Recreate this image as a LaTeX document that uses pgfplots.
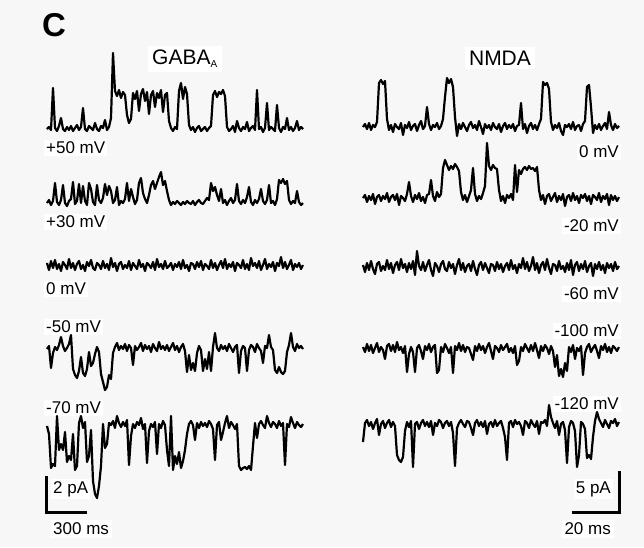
\documentclass[border=0pt]{standalone}
\usepackage{fontspec}
\setmainfont{Liberation Sans}
\usepackage{pgfplots}
\pgfplotsset{compat=1.18}
\definecolor{bg}{RGB}{247,247,247}
\pgfplotsset{trace/.style={black, line width=2.2pt, mark=none, line join=round}}
\newcommand{\lbl}{\fontsize{17}{20}\selectfont}
\newcommand{\ttl}{\fontsize{21}{24}\selectfont}

\begin{document}
\begin{tikzpicture}
\begin{axis}[x=1pt, y=1pt, y dir=reverse,
  xmin=0, xmax=644, ymin=0, ymax=547,
  hide axis, clip=false, scale only axis]

\fill[bg] (axis cs:0,0) rectangle (axis cs:644,547);

% panel letter and titles
\node[anchor=west, font=\fontsize{33}{36}\selectfont\bfseries, inner sep=0pt] at (axis cs:42,25) {C};
\node[anchor=west, font=\ttl, fill=white, inner sep=4pt] at (axis cs:148,59) {GABA\textsubscript{\fontsize{10}{10}\selectfont A}};
\node[anchor=center, font=\ttl, fill=white, inner sep=4pt] at (axis cs:500,58) {NMDA};

% voltage labels
\node[anchor=west, font=\lbl, fill=white, inner sep=2pt] at (axis cs:44,148) {+50 mV};
\node[anchor=west, font=\lbl, fill=white, inner sep=2pt] at (axis cs:44,222) {+30 mV};
\node[anchor=west, font=\lbl, fill=white, inner sep=2pt] at (axis cs:44,289) {0 mV};
\node[anchor=west, font=\lbl, fill=white, inner sep=2pt] at (axis cs:44,327) {-50 mV};
\node[anchor=west, font=\lbl, fill=white, inner sep=2pt] at (axis cs:44,408) {-70 mV};
\node[anchor=east, font=\lbl, fill=white, inner sep=2pt] at (axis cs:621,152) {0 mV};
\node[anchor=east, font=\lbl, fill=white, inner sep=2pt] at (axis cs:621,226) {-20 mV};
\node[anchor=east, font=\lbl, fill=white, inner sep=2pt] at (axis cs:621,294) {-60 mV};
\node[anchor=east, font=\lbl, fill=white, inner sep=2pt] at (axis cs:621,331) {-100 mV};
\node[anchor=east, font=\lbl, fill=white, inner sep=2pt] at (axis cs:621,404) {-120 mV};

% scale bar labels
\node[anchor=west, font=\lbl, fill=white, inner sep=2pt] at (axis cs:51,489) {2 pA};
\node[anchor=west, font=\lbl, fill=white, inner sep=3pt] at (axis cs:50,529) {300 ms};
\node[anchor=east, font=\lbl, fill=white, inner sep=2pt] at (axis cs:613,489) {5 pA};
\node[anchor=east, font=\lbl, fill=white, inner sep=3pt] at (axis cs:614,529) {20 ms};

% GABA_A +50 mV
\addplot[trace] table[header=false, row sep=\\, x expr=47+2*\coordindex, y expr=129-\thisrowno{0}] {
0\\2\\-1\\41\\1\\-2\\3\\11\\0\\-2\\
2\\-1\\3\\-2\\1\\4\\-1\\2\\21\\0\\
-2\\3\\1\\-1\\6\\0\\-2\\3\\1\\9\\
-1\\2\\11\\76\\38\\33\\39\\31\\37\\34\\
14\\6\\10\\36\\30\\38\\18\\35\\40\\28\\
37\\15\\34\\38\\22\\36\\31\\39\\17\\34\\
36\\8\\1\\-2\\2\\0\\38\\46\\30\\42\\
35\\4\\-1\\2\\-3\\1\\3\\-2\\0\\2\\
-2\\1\\3\\34\\38\\32\\37\\35\\39\\33\\
2\\-2\\0\\3\\-3\\8\\1\\-2\\2\\0\\
7\\-2\\1\\3\\-1\\39\\0\\2\\-3\\1\\
26\\-1\\2\\0\\-2\\24\\1\\-3\\2\\0\\
11\\-1\\2\\-2\\1\\8\\-1\\2\\0\\
};

% NMDA 0 mV
\addplot[trace] table[header=false, row sep=\\, x expr=363+2*\coordindex, y expr=127-\thisrowno{0}] {
0\\3\\-2\\4\\-3\\2\\0\\5\\44\\47\\
43\\46\\8\\-3\\2\\-5\\3\\0\\-2\\4\\
-8\\2\\-1\\5\\-3\\1\\3\\-4\\2\\6\\
-2\\1\\20\\3\\-3\\2\\0\\4\\-2\\1\\
8\\30\\49\\44\\48\\40\\10\\-9\\3\\-2\\
4\\0\\-4\\2\\5\\-1\\2\\-3\\6\\0\\
-7\\3\\-1\\2\\-3\\4\\0\\-2\\3\\-5\\
1\\4\\-2\\2\\-1\\3\\-4\\1\\2\\24\\
-2\\3\\-6\\1\\4\\-2\\2\\-3\\3\\8\\
45\\42\\44\\38\\5\\-3\\2\\-1\\4\\-4\\
-8\\2\\0\\3\\-2\\5\\-3\\1\\2\\-4\\
3\\6\\40\\42\\20\\-6\\2\\-2\\3\\-3\\
1\\4\\-2\\15\\2\\-3\\3\\-1\\1\\
};

% GABA_A +30 mV
\addplot[trace] table[header=false, row sep=\\, x expr=47+2*\coordindex, y expr=203-\thisrowno{0}] {
0\\3\\-2\\2\\20\\1\\-2\\3\\18\\0\\
-3\\2\\4\\21\\-1\\2\\19\\0\\17\\2\\
-2\\20\\14\\1\\-2\\18\\3\\0\\5\\19\\
8\\17\\12\\0\\3\\16\\-2\\2\\0\\4\\
20\\2\\14\\6\\-1\\3\\20\\25\\10\\4\\
0\\8\\18\\22\\14\\20\\26\\31\\18\\22\\
12\\3\\-2\\1\\-1\\2\\0\\-2\\1\\-1\\
2\\0\\-1\\2\\-2\\1\\3\\0\\-1\\2\\
5\\3\\20\\12\\16\\8\\2\\14\\0\\3\\
-2\\2\\5\\0\\3\\19\\2\\-1\\3\\0\\
6\\16\\1\\-2\\3\\0\\4\\14\\2\\-1\\
3\\18\\0\\2\\-2\\4\\23\\20\\24\\19\\
22\\3\\-1\\2\\0\\12\\1\\-2\\0\\
};

% NMDA -20 mV
\addplot[trace] table[header=false, row sep=\\, x expr=363+2*\coordindex, y expr=198-\thisrowno{0}] {
0\\3\\-4\\2\\-2\\4\\-6\\1\\3\\-3\\
2\\-1\\5\\-4\\1\\3\\-2\\4\\-7\\2\\
0\\-3\\4\\16\\2\\-4\\3\\-1\\5\\-3\\
1\\-5\\3\\4\\18\\2\\-3\\6\\1\\4\\
30\\38\\33\\28\\32\\29\\34\\31\\27\\6\\
-2\\3\\-4\\2\\8\\30\\4\\-3\\2\\-1\\
5\\12\\55\\32\\28\\33\\30\\29\\8\\-3\\
2\\-5\\3\\0\\4\\-2\\33\\6\\28\\24\\
29\\31\\28\\32\\29\\30\\27\\31\\8\\-2\\
3\\-6\\2\\4\\-3\\1\\5\\-4\\2\\-2\\
4\\-8\\1\\3\\-3\\5\\-2\\2\\-5\\3\\
0\\4\\-3\\2\\-6\\3\\1\\-2\\5\\-4\\
2\\-1\\4\\-7\\3\\-2\\2\\-3\\1\\
};

% GABA_A 0 mV
\addplot[trace] table[header=false, row sep=\\, x expr=47+2*\coordindex, y expr=266-\thisrowno{0}] {
3\\-4\\5\\-2\\6\\-3\\2\\-5\\4\\1\\
-3\\7\\-2\\3\\-4\\2\\5\\-3\\1\\-5\\
4\\0\\6\\-2\\-4\\3\\1\\-3\\5\\-2\\
2\\-4\\8\\-1\\3\\-5\\2\\4\\-3\\1\\
-2\\5\\-4\\3\\0\\-3\\6\\-1\\2\\-5\\
3\\1\\-2\\4\\-4\\7\\-1\\2\\-3\\5\\
-2\\0\\3\\-4\\2\\-1\\4\\-3\\6\\-2\\
1\\-5\\3\\2\\-3\\4\\-1\\5\\-4\\2\\
0\\-3\\6\\-2\\3\\-4\\1\\5\\-2\\7\\
-3\\2\\-1\\4\\-5\\3\\1\\-2\\6\\-3\\
2\\-4\\8\\0\\3\\-2\\5\\-4\\1\\7\\
-3\\2\\-1\\4\\-5\\3\\0\\9\\-2\\4\\
-3\\1\\6\\-4\\2\\-1\\3\\-3\\1\\
};

% NMDA -60 mV
\addplot[trace] table[header=false, row sep=\\, x expr=363+2*\coordindex, y expr=267-\thisrowno{0}] {
2\\-5\\4\\-3\\6\\-2\\-7\\3\\5\\-4\\
1\\-3\\7\\-2\\4\\-6\\2\\5\\-3\\8\\
-1\\3\\-5\\4\\-2\\6\\-8\\16\\1\\-3\\
5\\-4\\2\\7\\-3\\-9\\4\\1\\-5\\3\\
6\\-2\\-4\\5\\-1\\3\\-7\\2\\8\\-3\\
4\\-5\\1\\3\\-4\\6\\-2\\-8\\2\\5\\
-3\\4\\-1\\-6\\3\\2\\-4\\5\\-2\\3\\
-5\\1\\4\\-3\\7\\-2\\2\\-6\\3\\-1\\
9\\-2\\5\\-4\\1\\10\\-3\\4\\-6\\2\\
5\\-3\\8\\-1\\-7\\3\\2\\-4\\6\\-2\\
1\\-5\\4\\-3\\7\\-8\\2\\5\\-4\\3\\
-2\\6\\-5\\1\\4\\-9\\3\\-2\\5\\-3\\
2\\-6\\4\\-1\\3\\-4\\5\\-2\\1\\
};

% GABA_A -50 mV
\addplot[trace] table[header=false, row sep=\\, x expr=47+2*\coordindex, y expr=349-\thisrowno{0}] {
0\\3\\-19\\-4\\2\\-1\\4\\12\\3\\-2\\
1\\5\\14\\-20\\-26\\-29\\-22\\-8\\-24\\-27\\
-20\\-3\\-17\\-14\\-5\\2\\-3\\-25\\-33\\-41\\
-38\\-26\\-30\\-4\\2\\6\\-1\\3\\0\\5\\
-2\\4\\1\\-16\\3\\-1\\2\\6\\-2\\4\\
0\\3\\-3\\5\\1\\-2\\7\\0\\3\\-1\\
4\\-2\\2\\6\\-1\\3\\-3\\2\\5\\-2\\
-23\\-6\\-21\\-14\\-22\\-4\\3\\-1\\-22\\-10\\
-20\\-3\\-22\\2\\16\\1\\-2\\4\\0\\3\\
-2\\5\\1\\-3\\2\\4\\-24\\-2\\3\\1\\
-22\\-1\\4\\2\\-3\\5\\1\\-2\\-14\\3\\
1\\14\\2\\-1\\-21\\-24\\-18\\-23\\-25\\-22\\
-3\\4\\16\\2\\-2\\5\\1\\3\\0\\
};

% NMDA -100 mV
\addplot[trace] table[header=false, row sep=\\, x expr=363+2*\coordindex, y expr=349-\thisrowno{0}] {
2\\-3\\5\\-2\\4\\-4\\1\\6\\-3\\2\\
-1\\-10\\3\\5\\-2\\4\\-3\\7\\-1\\2\\
-4\\3\\-23\\-5\\2\\-3\\-23\\1\\4\\-2\\
-10\\3\\-1\\5\\-3\\2\\4\\-24\\-21\\2\\
-3\\5\\1\\-4\\2\\-24\\3\\-1\\6\\-2\\
4\\-3\\2\\1\\-5\\-11\\3\\-2\\5\\-1\\
3\\-4\\2\\6\\-2\\-10\\3\\1\\-3\\4\\
-1\\2\\5\\-3\\1\\-4\\3\\-16\\-12\\2\\
-2\\5\\1\\-3\\4\\-2\\6\\-1\\-9\\3\\
-2\\4\\1\\-5\\3\\-2\\-18\\-6\\-27\\-20\\
-28\\-14\\-22\\2\\-3\\4\\-10\\1\\-2\\3\\
-26\\-4\\2\\5\\-3\\1\\4\\-2\\-9\\3\\
-1\\5\\-3\\2\\-4\\3\\1\\-2\\2\\
};

% GABA_A -70 mV
\addplot[trace] table[header=false, row sep=\\, x expr=47+2*\coordindex, y expr=426-\thisrowno{0}] {
0\\-8\\-42\\-38\\-40\\10\\-24\\-18\\-24\\-6\\
-36\\-30\\-34\\-8\\-44\\-40\\3\\10\\-2\\4\\
-36\\-30\\-4\\-55\\-68\\-72\\-60\\-40\\2\\-22\\
-18\\3\\1\\5\\-2\\10\\3\\-1\\4\\0\\
6\\-39\\-10\\2\\-2\\4\\1\\8\\-3\\2\\
-37\\-5\\2\\-1\\4\\-28\\2\\-2\\5\\1\\
-24\\-40\\10\\-44\\-30\\-38\\-26\\-42\\-35\\-24\\
-8\\2\\5\\1\\-14\\3\\-2\\4\\0\\3\\
-1\\5\\2\\-3\\-34\\1\\4\\-14\\-6\\3\\
10\\-2\\4\\1\\-3\\2\\-40\\-44\\-42\\-41\\
-43\\-40\\-44\\-20\\3\\-12\\2\\5\\1\\-2\\
10\\3\\-1\\4\\2\\-2\\5\\0\\3\\-39\\
2\\-1\\9\\3\\-2\\4\\1\\-1\\2\\
};

% NMDA -120 mV
\addplot[trace] table[header=false, row sep=\\, x expr=363+2*\coordindex, y expr=425-\thisrowno{0}] {
-17\\2\\5\\-1\\3\\-4\\2\\6\\-10\\1\\
4\\-3\\2\\5\\-2\\3\\-1\\-30\\-35\\-37\\
-32\\-6\\3\\-2\\4\\-42\\1\\3\\-4\\2\\
5\\-1\\3\\-2\\4\\-10\\2\\-1\\5\\3\\
-3\\2\\4\\-1\\3\\-8\\-41\\-3\\2\\5\\
1\\-2\\4\\3\\-3\\-10\\2\\5\\-1\\3\\
-2\\4\\-9\\1\\3\\-2\\5\\-1\\2\\4\\
-3\\-12\\-35\\2\\4\\-2\\5\\1\\3\\-1\\
-10\\4\\2\\-3\\5\\1\\-2\\4\\-9\\3\\
2\\5\\-1\\20\\8\\2\\-3\\4\\-10\\1\\
3\\-5\\-38\\-2\\4\\2\\-6\\-42\\-30\\3\\
1\\-4\\-33\\-30\\-34\\-12\\4\\13\\6\\2\\
-2\\5\\1\\-3\\4\\2\\6\\-1\\3\\
};

% scale bars: 2 pA / 300 ms and 5 pA / 20 ms
\addplot[black, line width=3pt, mark=none] coordinates {(46,476) (46,512) (87,512)};
\addplot[black, line width=3pt, mark=none] coordinates {(572,512) (619,512) (619,471)};

\end{axis}
\end{tikzpicture}
\end{document}
